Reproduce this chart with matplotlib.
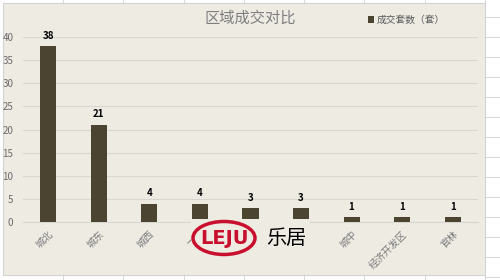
import matplotlib
matplotlib.use("Agg")
import matplotlib.pyplot as plt
from matplotlib.patches import Rectangle, Ellipse

plt.rcParams['font.family'] = ['Noto Sans CJK SC', 'DejaVu Sans']

categories = ['城北', '城东', '城西', '丁蜀', '环科园', '宜城', '城中', '经济开发区', '官林']
values = [38, 21, 4, 4, 3, 3, 1, 1, 1]
title = '区域成交对比'
series_name = '成交套数（套）'
yticks = [0, 5, 10, 15, 20, 25, 30, 35, 40]

W, H = 500, 280
fig = plt.figure(figsize=(W / 100, H / 100), dpi=100)
fig.patch.set_facecolor('white')

def fx(px):
    return px / W

def fy(py):
    return 1 - py / H

# spreadsheet cell lines outside the chart area
for xv in [63, 123, 184, 244, 304, 364, 425, 485]:
    fig.add_artist(plt.Line2D([fx(xv), fx(xv)], [fy(0), fy(3)], color='#d0d0d0', lw=0.6))
    fig.add_artist(plt.Line2D([fx(xv), fx(xv)], [fy(275), fy(280)], color='#d0d0d0', lw=0.6))
for yv in range(17, 280, 20):
    fig.add_artist(plt.Line2D([fx(485), fx(500)], [fy(yv), fy(yv)], color='#d0d0d0', lw=0.6))

bg = '#EEEBE3'
fig.add_artist(Rectangle((fx(3), fy(275)), fx(485) - fx(3), fy(3) - fy(275),
                         transform=fig.transFigure, facecolor=bg, edgecolor='#d3d3d3', lw=0.8, zorder=0))

ax = fig.add_axes([fx(23), fy(222), fx(478) - fx(23), fy(37) - fy(222)])
ax.set_facecolor('none')
x = list(range(len(categories)))
bars = ax.bar(x, values, width=0.32, color='#4B4430', zorder=3, label=series_name)
ax.set_xlim(-0.5, len(categories) - 0.5)
ax.set_ylim(0, 40)
ax.set_yticks(yticks)
ax.grid(axis='y', color='#d8d6d0', lw=0.8, zorder=0)
for s in ['top', 'right', 'left']:
    ax.spines[s].set_visible(False)
ax.spines['bottom'].set_color('#d8d6d0')
ax.tick_params(axis='both', length=0, colors='#6b6b6b', labelsize=7)
ax.tick_params(axis='y', pad=7)
ax.tick_params(axis='x', pad=5)
ax.set_xticks(x)
ax.set_xticklabels(categories, rotation=45, ha='right', rotation_mode='anchor', fontsize=7, color='#7a7a7a')
for xi, v in zip(x, values):
    ax.annotate(str(v), (xi, v), xytext=(0, 4), textcoords='offset points',
                ha='center', va='bottom', fontsize=7, fontweight='bold', color='black')

fig.text(fx(250), fy(18), title, ha='center', va='center', fontsize=11, color='#7f7f7f')
leg = ax.legend(loc='upper left', bbox_to_anchor=(fx(368), fy(15)), bbox_transform=fig.transFigure,
                frameon=False, fontsize=7, handlelength=0.6, handleheight=0.6, handletextpad=0.3,
                borderpad=0, borderaxespad=0)
for t in leg.get_texts():
    t.set_color('#595959')

# watermark
fig.add_artist(Rectangle((fx(191), fy(256)), fx(310) - fx(191), fy(219) - fy(256),
                         transform=fig.transFigure, facecolor=bg, edgecolor='none', zorder=5))
fig.add_artist(Ellipse((fx(224), fy(238)), fx(62), 33 / H, transform=fig.transFigure,
                       facecolor='none', edgecolor='#C8102E', lw=2.5, zorder=6))
fig.text(fx(224), fy(238), 'LEJU', ha='center', va='center', fontsize=14, fontweight='bold',
         color='#C8102E', family='Liberation Sans Narrow', zorder=7)
fig.text(fx(286), fy(238), '乐居', ha='center', va='center', fontsize=14.5, color='black', zorder=7)

fig.savefig('out.png', dpi=100, facecolor=fig.get_facecolor())
